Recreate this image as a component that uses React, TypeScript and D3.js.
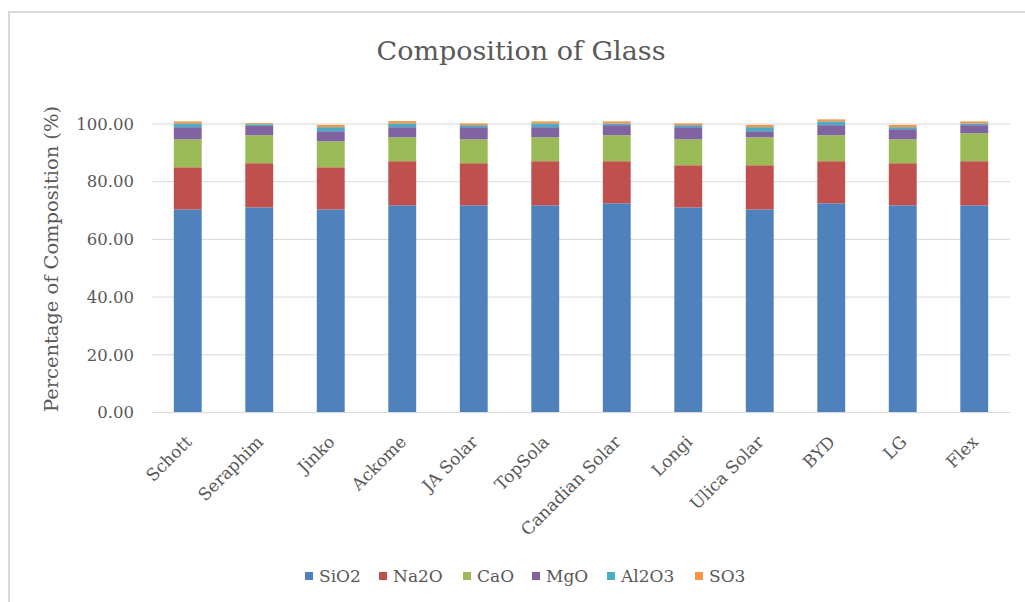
import React from "react";
import * as d3 from "d3";

const categories = ["Schott", "Seraphim", "Jinko", "Ackome", "JA Solar", "TopSola", "Canadian Solar", "Longi", "Ulica Solar", "BYD", "LG", "Flex"];
const seriesNames = ["SiO2", "Na2O", "CaO", "MgO", "Al2O3", "SO3"];
const SiO2 = [70.4, 71.1, 70.4, 71.8, 71.8, 71.8, 72.5, 71.1, 70.4, 72.5, 71.8, 71.8];
const Na2O = [14.6, 15.3, 14.6, 15.3, 14.6, 15.3, 14.6, 14.6, 15.3, 14.6, 14.6, 15.3];
const CaO = [9.7, 9.7, 9.0, 8.3, 8.3, 8.3, 9.0, 9.0, 9.7, 9.0, 8.3, 9.7];
const MgO = [4.2, 3.2, 3.5, 3.5, 4.2, 3.5, 3.5, 4.2, 2.1, 3.5, 3.5, 2.8];
const Al2O3 = [1.3, 0.6, 1.4, 1.3, 0.7, 1.3, 0.6, 0.7, 1.4, 1.3, 0.7, 0.6];
const SO3 = [0.7, 0.4, 0.8, 0.8, 0.6, 0.7, 0.7, 0.6, 0.8, 0.7, 0.8, 0.7];
const yTicks = [0, 20, 40, 60, 80, 100];
const colors = ["#4F81BD", "#C0504D", "#9BBB59", "#8064A2", "#4BACC6", "#F79646"];

const W = 1025, H = 602;
const left = 152, right = 1010, top = 124, bottom = 412.5;
const FONT = "'DejaVu Serif', serif";
const legendX = [305, 379, 463, 532, 607, 695];

export default function App() {
  const seriesValues = [SiO2, Na2O, CaO, MgO, Al2O3, SO3];
  const rows = categories.map((c, i) => {
    const r: any = { cat: c };
    seriesNames.forEach((s, k) => (r[s] = seriesValues[k][i]));
    return r;
  });
  const stack = d3.stack().keys(seriesNames)(rows);
  const x = d3.scaleBand().domain(categories).range([left, right]).paddingInner(0.61).paddingOuter(0.305);
  const y = d3.scaleLinear().domain([0, 100]).range([bottom, top]);

  return (
    <svg width={W} height={H} style={{ position: "absolute", left: 0, top: 0, background: "#fff" }}>
      <rect x={0} y={0} width={W} height={H} fill="#fff" />
      <path d={`M9,${H} V12 H${W}`} fill="none" stroke="#d9d9d9" strokeWidth={2} />
      <text x={521} y={60} textAnchor="middle" fontFamily={FONT} fontSize={26} fill="#595959" textLength={289} lengthAdjust="spacingAndGlyphs">Composition of Glass</text>
      {yTicks.map((t) => (
        <g key={t}>
          <line x1={left} x2={right} y1={y(t)} y2={y(t)} stroke="#d9d9d9" strokeWidth={1} />
          <text x={134} y={y(t)} dy="0.35em" textAnchor="end" fontFamily={FONT} fontSize={16.5} fill="#595959">{t.toFixed(2)}</text>
        </g>
      ))}
      <text transform={`translate(52,259) rotate(-90)`} textAnchor="middle" fontFamily={FONT} fontSize={18.5} fill="#595959" dy="0.35em" textLength={306} lengthAdjust="spacingAndGlyphs">Percentage of Composition (%)</text>
      {stack.map((s, k) => (
        <g key={s.key} fill={colors[k]}>
          {s.map((d, i) => (
            <rect key={i} x={x(categories[i])} width={x.bandwidth()} y={y(d[1])} height={Math.max(0, y(d[0]) - y(d[1]))} />
          ))}
        </g>
      ))}
      <line x1={left} x2={right} y1={bottom} y2={bottom} stroke="#d9d9d9" strokeWidth={1} />
      {categories.map((c) => (
        <text key={c} transform={`translate(${(x(c) as number) + x.bandwidth() / 2 + 5},${443}) rotate(-45)`} textAnchor="end" fontFamily={FONT} fontSize={17} fill="#595959">{c}</text>
      ))}
      {seriesNames.map((s, k) => (
        <g key={s}>
          <rect x={legendX[k]} y={572} width={8} height={8} fill={colors[k]} />
          <text x={legendX[k] + 14} y={576} dy="0.35em" fontFamily={FONT} fontSize={17} fill="#595959">{s}</text>
        </g>
      ))}
    </svg>
  );
}
